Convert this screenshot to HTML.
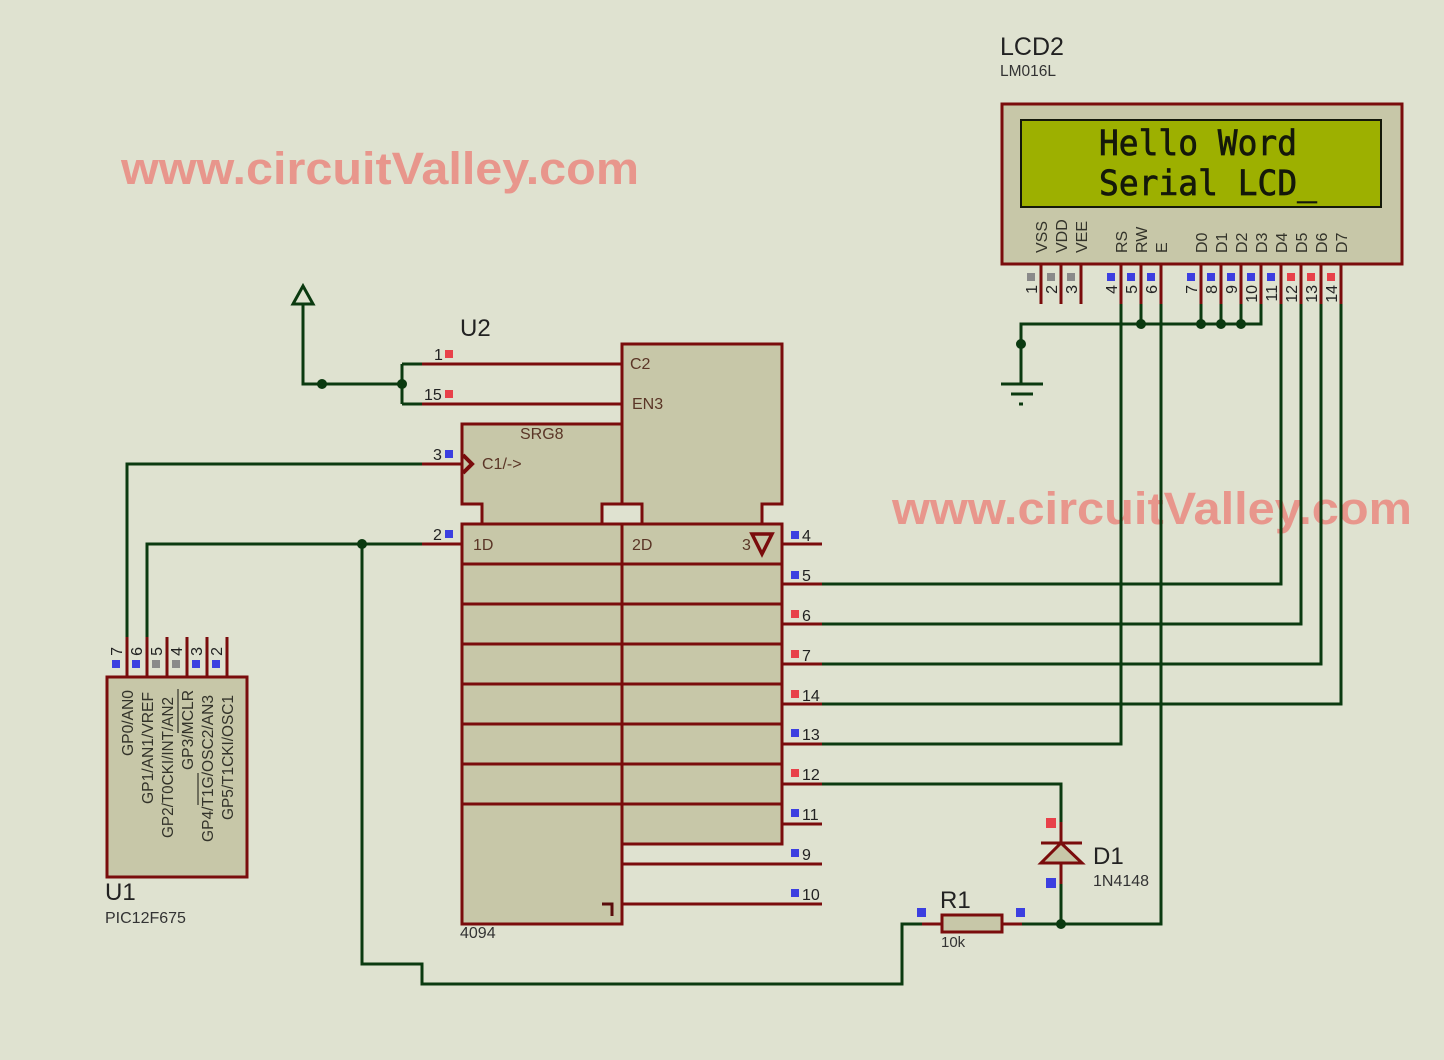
<!DOCTYPE html>
<html><head><meta charset="utf-8"><style>
html,body{margin:0;padding:0;background:#dfe2d0;width:1444px;height:1060px;overflow:hidden}
svg{display:block}
text{font-family:"Liberation Sans",sans-serif}
.r{stroke:#7a0c0c;stroke-width:3;fill:none}
.g{stroke:#0b3a10;stroke-width:3;fill:none;stroke-linejoin:miter}
.b{fill:#c7c7a8;stroke:#7a0c0c;stroke-width:3}
.n{font-size:16px;fill:#222}
.v{font-size:16px;fill:#33332a}
.c{font-size:16px;fill:#5a3526}
.bl{fill:#3c3fe0}.rd{fill:#e8414a}.gy{fill:#8a8a8a}
.wm{font-family:"Liberation Sans",sans-serif;font-weight:bold;font-size:45px;fill:#e8968c}
</style></head><body>
<svg width="1444" height="1060" viewBox="0 0 1444 1060" xmlns="http://www.w3.org/2000/svg">
<rect width="1444" height="1060" fill="#dfe2d0"/>

<!-- watermarks -->
<text class="wm" x="121" y="184" textLength="518" lengthAdjust="spacingAndGlyphs">www.circuitValley.com</text>
<text class="wm" x="892" y="524" textLength="520" lengthAdjust="spacingAndGlyphs">www.circuitValley.com</text>

<!-- LCD -->
<text x="1000" y="55" font-size="25" fill="#222">LCD2</text>
<text x="1000" y="76" font-size="15.5" fill="#333">LM016L</text>
<rect class="b" x="1002" y="104" width="400" height="160"/>
<rect x="1021" y="120" width="360" height="87" fill="#9db000" stroke="#14180a" stroke-width="2"/>
<text x="1099" y="155" style="font-family:'DejaVu Sans Mono',monospace" font-size="35" fill="#14180a" stroke="#14180a" stroke-width="0.7" textLength="198" lengthAdjust="spacingAndGlyphs">Hello Word</text>
<text x="1099" y="195" style="font-family:'DejaVu Sans Mono',monospace" font-size="35" fill="#14180a" stroke="#14180a" stroke-width="0.7" textLength="218" lengthAdjust="spacingAndGlyphs">Serial LCD_</text>

<g class="v" text-anchor="start">
<text transform="translate(1047,253) rotate(-90)">VSS</text>
<text transform="translate(1067,253) rotate(-90)">VDD</text>
<text transform="translate(1087,253) rotate(-90)">VEE</text>
<text transform="translate(1127,253) rotate(-90)">RS</text>
<text transform="translate(1147,253) rotate(-90)">RW</text>
<text transform="translate(1167,253) rotate(-90)">E</text>
<text transform="translate(1207,253) rotate(-90)">D0</text>
<text transform="translate(1227,253) rotate(-90)">D1</text>
<text transform="translate(1247,253) rotate(-90)">D2</text>
<text transform="translate(1267,253) rotate(-90)">D3</text>
<text transform="translate(1287,253) rotate(-90)">D4</text>
<text transform="translate(1307,253) rotate(-90)">D5</text>
<text transform="translate(1327,253) rotate(-90)">D6</text>
<text transform="translate(1347,253) rotate(-90)">D7</text>
</g>

<!-- LCD pins -->
<path class="r" d="M1041 264V304M1061 264V304M1081 264V304M1121 264V304M1141 264V304M1161 264V304M1201 264V304M1221 264V304M1241 264V304M1261 264V304M1281 264V304M1301 264V304M1321 264V304M1341 264V304"/>
<rect class="gy" x="1027" y="273" width="8" height="8"/><rect class="gy" x="1047" y="273" width="8" height="8"/><rect class="gy" x="1067" y="273" width="8" height="8"/>
<rect class="bl" x="1107" y="273" width="8" height="8"/><rect class="bl" x="1127" y="273" width="8" height="8"/><rect class="bl" x="1147" y="273" width="8" height="8"/>
<rect class="bl" x="1187" y="273" width="8" height="8"/><rect class="bl" x="1207" y="273" width="8" height="8"/><rect class="bl" x="1227" y="273" width="8" height="8"/><rect class="bl" x="1247" y="273" width="8" height="8"/><rect class="bl" x="1267" y="273" width="8" height="8"/>
<rect class="rd" x="1287" y="273" width="8" height="8"/><rect class="rd" x="1307" y="273" width="8" height="8"/><rect class="rd" x="1327" y="273" width="8" height="8"/>
<g class="n" text-anchor="end">
<text transform="translate(1037,285) rotate(-90)">1</text>
<text transform="translate(1057,285) rotate(-90)">2</text>
<text transform="translate(1077,285) rotate(-90)">3</text>
<text transform="translate(1117,285) rotate(-90)">4</text>
<text transform="translate(1137,285) rotate(-90)">5</text>
<text transform="translate(1157,285) rotate(-90)">6</text>
<text transform="translate(1197,285) rotate(-90)">7</text>
<text transform="translate(1217,285) rotate(-90)">8</text>
<text transform="translate(1237,285) rotate(-90)">9</text>
<text transform="translate(1257,285) rotate(-90)">10</text>
<text transform="translate(1277,285) rotate(-90)">11</text>
<text transform="translate(1297,285) rotate(-90)">12</text>
<text transform="translate(1317,285) rotate(-90)">13</text>
<text transform="translate(1337,285) rotate(-90)">14</text>
</g>

<!-- LCD wiring -->
<path class="g" d="M1021 384V324H1261V304M1141 304V324M1201 304V324M1221 304V324M1241 304V324"/>
<path class="g" d="M1001 384H1043M1011 394H1033M1019 404H1023"/>
<path class="g" d="M1121 304V744H822"/>
<path class="g" d="M1281 304V584H822"/>
<path class="g" d="M1301 304V624H822"/>
<path class="g" d="M1321 304V664H822"/>
<path class="g" d="M1341 304V704H822"/>
<path class="g" d="M1161 304V924H1022"/>
<g fill="#0b3a10"><circle cx="1021" cy="344" r="5"/><circle cx="1141" cy="324" r="5"/><circle cx="1201" cy="324" r="5"/><circle cx="1221" cy="324" r="5"/><circle cx="1241" cy="324" r="5"/></g>

<!-- U2 chip -->
<text x="460" y="336" font-size="24" fill="#222">U2</text>
<path class="b" d="M622 344H782V504H762V524H642V504H622Z"/>
<path class="b" d="M622 424H462V504H482V524H602V504H622Z"/>
<rect class="b" x="462" y="524" width="160" height="400"/>
<rect class="b" x="622" y="524" width="160" height="320"/>
<rect x="602" y="504" width="40" height="20" fill="#dfe2d0" stroke="#7a0c0c" stroke-width="3"/>
<path class="r" d="M622 344V504"/>
<path class="r" d="M462 564H782M462 604H782M462 644H782M462 684H782M462 724H782M462 764H782M462 804H782"/>
<path d="M463 455L472 464L463 473" fill="none" stroke="#7a0c0c" stroke-width="4"/>
<path d="M752 534H772L762 554Z" fill="none" stroke="#7a0c0c" stroke-width="3.5"/>
<path d="M602 904H612V916" fill="none" stroke="#5a0c0c" stroke-width="3"/>

<text class="c" x="630" y="369">C2</text>
<text class="c" x="632" y="409">EN3</text>
<text class="c" x="520" y="439">SRG8</text>
<text class="c" x="482" y="469">C1/-&gt;</text>
<text class="c" x="473" y="550">1D</text>
<text class="c" x="632" y="550">2D</text>
<text class="c" x="742" y="550">3</text>
<text x="460" y="938" font-size="16" fill="#333">4094</text>

<!-- left pins -->
<path class="g" d="M303 304V384H402M402 364V404M402 364H422M402 404H422"/>
<path class="r" d="M422 364H622M422 404H622M422 464H462M422 544H462"/>
<path class="g" d="M293 304L303 286L313 304Z"/>
<circle cx="322" cy="384" r="5" fill="#0b3a10"/><circle cx="402" cy="384" r="5" fill="#0b3a10"/>
<rect class="rd" x="445" y="350" width="8" height="8"/><rect class="rd" x="445" y="390" width="8" height="8"/>
<rect class="bl" x="445" y="450" width="8" height="8"/><rect class="bl" x="445" y="530" width="8" height="8"/>
<text class="n" x="434" y="360">1</text>
<text class="n" x="424" y="400">15</text>
<text class="n" x="433" y="460">3</text>
<text class="n" x="433" y="540">2</text>

<!-- right pins -->
<path class="r" d="M783 544H822M783 584H822M783 624H822M783 664H822M783 704H822M783 744H822M783 784H822M783 824H822M622 864H822M622 904H822"/>
<path class="g" d="M822 784H1061V822"/>
<g class="bl"><rect x="791" y="531" width="8" height="8"/><rect x="791" y="571" width="8" height="8"/><rect x="791" y="729" width="8" height="8"/><rect x="791" y="809" width="8" height="8"/><rect x="791" y="849" width="8" height="8"/><rect x="791" y="889" width="8" height="8"/></g>
<g class="rd"><rect x="791" y="610" width="8" height="8"/><rect x="791" y="650" width="8" height="8"/><rect x="791" y="690" width="8" height="8"/><rect x="791" y="769" width="8" height="8"/></g>
<g class="n">
<text x="802" y="541">4</text><text x="802" y="581">5</text><text x="802" y="621">6</text><text x="802" y="661">7</text>
<text x="802" y="701">14</text><text x="802" y="740">13</text><text x="802" y="780">12</text><text x="802" y="820">11</text>
<text x="802" y="860">9</text><text x="802" y="900">10</text>
</g>

<!-- U1 -->
<rect class="b" x="107" y="677" width="140" height="200"/>
<path class="r" d="M167 637V677M187 637V677M207 637V677M227 637V677M127 637V677M147 637V677"/>
<path class="g" d="M127 637V464H422M147 637V544H422"/>
<rect class="bl" x="112" y="660" width="8" height="8"/><rect class="bl" x="132" y="660" width="8" height="8"/><rect class="gy" x="152" y="660" width="8" height="8"/><rect class="gy" x="172" y="660" width="8" height="8"/><rect class="bl" x="192" y="660" width="8" height="8"/><rect class="bl" x="212" y="660" width="8" height="8"/>
<g class="n" text-anchor="end">
<text transform="translate(122,647) rotate(-90)">7</text>
<text transform="translate(142,647) rotate(-90)">6</text>
<text transform="translate(162,647) rotate(-90)">5</text>
<text transform="translate(182,647) rotate(-90)">4</text>
<text transform="translate(202,647) rotate(-90)">3</text>
<text transform="translate(222,647) rotate(-90)">2</text>
</g>
<g class="v">
<text transform="translate(133,756) rotate(-90)" textLength="66" lengthAdjust="spacingAndGlyphs">GP0/AN0</text>
<text transform="translate(153,804) rotate(-90)" textLength="112" lengthAdjust="spacingAndGlyphs">GP1/AN1/VREF</text>
<text transform="translate(173,838) rotate(-90)" textLength="141" lengthAdjust="spacingAndGlyphs">GP2/T0CKI/INT/AN2</text>
<text transform="translate(193,770) rotate(-90)" textLength="80" lengthAdjust="spacingAndGlyphs">GP3/MCLR</text>
<text transform="translate(213,842) rotate(-90)" textLength="147" lengthAdjust="spacingAndGlyphs">GP4/T1G/OSC2/AN3</text>
<text transform="translate(233,820) rotate(-90)" textLength="125" lengthAdjust="spacingAndGlyphs">GP5/T1CKI/OSC1</text>
</g>
<path d="M178 689V733M198 773V805" stroke="#33332a" stroke-width="1.2" fill="none"/>
<text x="105" y="900" font-size="24" fill="#222">U1</text>
<text x="105" y="923" font-size="16" fill="#333">PIC12F675</text>

<!-- GP wire lower loop -->
<path class="g" d="M362 544V964H422V984H902V924H922"/>
<circle cx="362" cy="544" r="5" fill="#0b3a10"/>

<!-- R1 -->
<path class="r" d="M922 924H942M1002 924H1022"/>
<rect class="b" x="942" y="915" width="60" height="17"/>
<rect class="bl" x="917" y="908" width="9" height="9"/><rect class="bl" x="1016" y="908" width="9" height="9"/>
<text x="940" y="908" font-size="24" fill="#222">R1</text>
<text x="941" y="947" font-size="15" fill="#333">10k</text>

<!-- D1 -->
<path class="g" d="M1061 924V884"/>
<path class="r" d="M1061 822V843M1061 863V884M1041 843H1082"/>
<path d="M1061 843L1082 863H1041Z" fill="#c7c7a8" stroke="#7a0c0c" stroke-width="3"/>
<rect class="rd" x="1046" y="818" width="10" height="10"/><rect class="bl" x="1046" y="878" width="10" height="10"/>
<text x="1093" y="864" font-size="24" fill="#222">D1</text>
<text x="1093" y="886" font-size="16" fill="#333">1N4148</text>
<circle cx="1061" cy="924" r="5" fill="#0b3a10"/>
</svg>
</body></html>
